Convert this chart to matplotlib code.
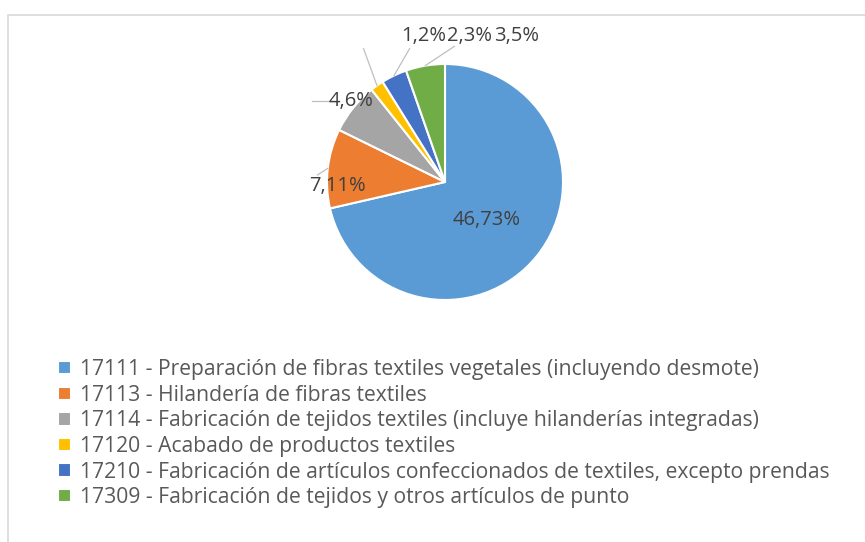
import numpy as np
import matplotlib.pyplot as plt
from matplotlib.patches import Rectangle

# Data
codes = ['17111', '17113', '17114', '17120', '17210', '17309']
names = ['Preparación de fibras textiles vegetales (incluyendo desmote)',
         'Hilandería de fibras textiles',
         'Fabricación de tejidos textiles (incluye hilanderías integradas)',
         'Acabado de productos textiles',
         'Fabricación de artículos confeccionados de textiles, excepto prendas',
         'Fabricación de tejidos y otros artículos de punto']
values = [46.73, 7.11, 4.6, 1.2, 2.3, 3.5]
value_labels = ['46,73%', '7,11%', '4,6%', '1,2%', '2,3%', '3,5%']
colors = ['#5B9BD5', '#ED7D31', '#A5A5A5', '#FFC000', '#4472C4', '#70AD47']

plt.rcParams['font.family'] = ['Open Sans', 'DejaVu Sans']

W, H = 865, 542
fig = plt.figure(figsize=(W / 100, H / 100), dpi=100)

# light chart frame
fig.patches.append(Rectangle((8 / W, -0.01), 1.0, 1 - 15 / H + 0.01,
                             transform=fig.transFigure, fill=False,
                             edgecolor='#d9d9d9', linewidth=1.2))

# pie axes: centre (445,182), radius 118 px
cx, cy, r = 445, 182, 118
ax = fig.add_axes([(cx - r) / W, 1 - (cy + r) / H, 2 * r / W, 2 * r / H])
wedges, _ = ax.pie(values, colors=colors, startangle=90, counterclock=False,
                   radius=1.0, wedgeprops=dict(edgecolor='white', linewidth=1.5))
ax.set_xlim(-1, 1)
ax.set_ylim(-1, 1)
ax.set_aspect('equal')
ax.axis('off')

txt = dict(color='#404040', fontsize=14.5, ha='center', va='center')
line = dict(color='#bfbfbf', lw=0.9, clip_on=False)

# label positions (data units, pie radius = 1)
label_pos = [(0.35, -0.32), (-0.91, -0.03), (-0.80, 0.69),
             (-0.18, 1.24), (0.21, 1.24), (0.61, 1.24)]
leader_end = [None, (-1.08, 0.06), None,
              (-0.69, 1.13), (-0.30, 1.13), (0.08, 1.15)]

for w, lab, pos, end in zip(wedges, value_labels, label_pos, leader_end):
    ax.text(pos[0], pos[1], lab, **txt)
    if end is not None:
        mid = np.deg2rad((w.theta1 + w.theta2) / 2)
        ax.plot([np.cos(mid) * 1.0, end[0]], [np.sin(mid) * 1.0, end[1]], **line)

# the short leader next to "4,6%"
ax.plot([-1.13, -0.98], [0.69, 0.69], **line)

labels = [f'{c} - {n}' for c, n in zip(codes, names)]
fig.legend(wedges, labels, loc='upper left', bbox_to_anchor=(58 / W, 1 - 359 / H),
           frameon=False, fontsize=15.2, labelcolor='#595959',
           handlelength=0.6, handleheight=0.6, handletextpad=0.45,
           labelspacing=0.22, borderpad=0, borderaxespad=0)

fig.savefig('out.png', dpi=100)
